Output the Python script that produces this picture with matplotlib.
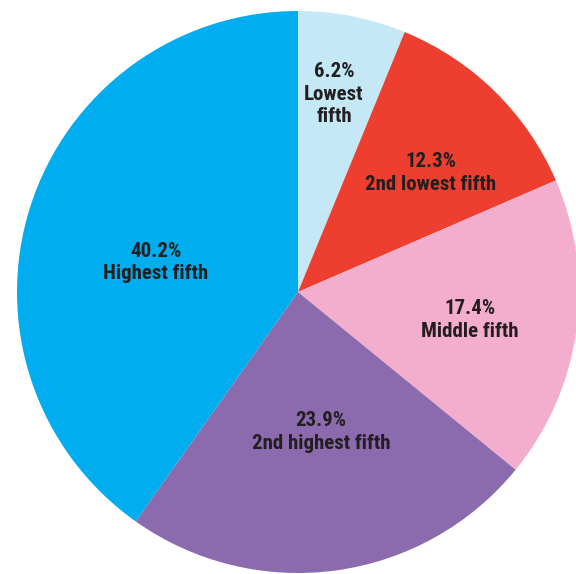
import numpy as np
import matplotlib
matplotlib.use("Agg")
import matplotlib.pyplot as plt

plt.rcParams['font.family'] = ['Roboto Condensed', 'Archivo Narrow', 'DejaVu Sans']

# Share of income by quintile
groups = ["Lowest\nfifth", "2nd lowest fifth", "Middle fifth",
          "2nd highest fifth", "Highest fifth"]
shares = [6.2, 12.3, 17.4, 23.9, 40.2]
colors = ["#C5E8F7", "#EE3E2F", "#F4AECD", "#8B6BAD", "#00ADEE"]

# label placement: (angle in degrees, distance from centre in px)
label_pos = [(79.8, 203), (42.4, 180), (-8.5, 174), (-80.5, 140), (167.5, 146)]

W, H = 576, 574
fig = plt.figure(figsize=(W / 100, H / 100), dpi=100)
ax = fig.add_axes([0, 0, 1, 1])

cx, cy, r = 298, H - 292, 281
ax.pie(shares, colors=colors, startangle=90, counterclock=False,
       center=(cx, cy), radius=r, frame=True,
       wedgeprops=dict(linewidth=0))
ax.set_xlim(0, W)
ax.set_ylim(0, H)
ax.set_aspect("equal")
ax.axis("off")

for name, val, (ang, dist) in zip(groups, shares, label_pos):
    x = cx + dist * np.cos(np.radians(ang))
    y = cy + dist * np.sin(np.radians(ang)) - 2
    ax.text(x, y, f"{val}%\n{name}", ha="center", va="center",
            fontsize=15, fontweight="bold", color="#231F20",
            linespacing=1.25)

fig.savefig("out.png", dpi=100)
